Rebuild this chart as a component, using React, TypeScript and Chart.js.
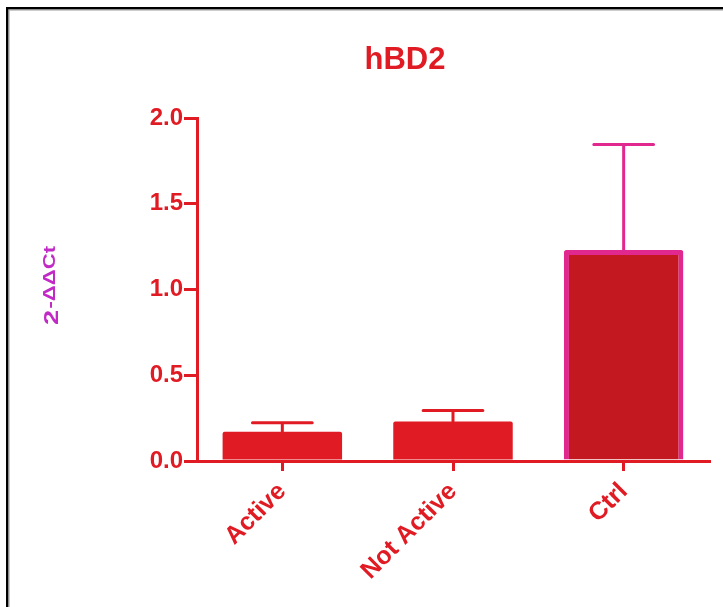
import { useEffect, useRef } from "react";
import { Chart, registerables } from "chart.js";

Chart.register(...registerables);

const categories = ["Active", "Not Active", "Ctrl"];
const means = [0.17, 0.23, 1.23];
const errors = [0.053, 0.065, 0.615];
const yTickValues = [0, 0.5, 1.0, 1.5, 2.0];
const titleText = "hBD2";
const yLabelBase = "2";
const yLabelSup = "-ΔΔCt";

const RED = "#e01b23";
const CTRL_FILL = "#c3181f";
const PINK = "#e0288e";
const PURPLE = "#c22ac6";
const FONT = "'Liberation Sans', Arial, sans-serif";

const barFill = [RED, RED, CTRL_FILL];
const barBorder = [RED, RED, PINK];
const barBorderWidth = [0, 0, 5];
const errColor = [RED, RED, PINK];

const framePlugin = {
  id: "frame",
  beforeDraw(chart: any) {
    const ctx = chart.ctx;
    ctx.save();
    ctx.fillStyle = "#ffffff";
    ctx.fillRect(0, 0, chart.width, chart.height);
    ctx.fillStyle = "#000000";
    ctx.fillRect(6, 7, 2.5, chart.height);
    ctx.fillRect(6, 7, chart.width, 2.5);
    ctx.fillStyle = "#9a9a9a";
    ctx.fillRect(8.5, 9.5, 1, chart.height);
    ctx.fillRect(8.5, 9.5, chart.width, 1);
    ctx.restore();
  },
};

const errorBarPlugin = {
  id: "errorBars",
  afterDatasetsDraw(chart: any) {
    const ctx = chart.ctx;
    const yScale = chart.scales.y;
    const meta = chart.getDatasetMeta(0);
    ctx.save();
    meta.data.forEach((bar: any, i: number) => {
      const p = bar.getProps(["x", "y", "width"], true);
      const top = yScale.getPixelForValue(means[i] + errors[i]);
      ctx.strokeStyle = errColor[i];
      ctx.lineWidth = 3;
      ctx.lineCap = "round";
      ctx.beginPath();
      ctx.moveTo(p.x, p.y);
      ctx.lineTo(p.x, top);
      ctx.moveTo(p.x - p.width / 4, top);
      ctx.lineTo(p.x + p.width / 4, top);
      ctx.stroke();
    });
    ctx.restore();
  },
};

const labelsPlugin = {
  id: "labels",
  afterDraw(chart: any) {
    const ctx = chart.ctx;
    ctx.save();
    ctx.fillStyle = RED;
    ctx.font = `bold 31px ${FONT}`;
    ctx.textAlign = "center";
    ctx.textBaseline = "alphabetic";
    ctx.fillText(titleText, 405, 69);

    ctx.fillStyle = PURPLE;
    ctx.translate(58, 285.5);
    ctx.rotate(-Math.PI / 2);
    ctx.textAlign = "left";
    const baseFont = `bold 21px ${FONT}`;
    const supFont = `bold 17px ${FONT}`;
    ctx.font = baseFont;
    const w1 = ctx.measureText(yLabelBase).width;
    ctx.font = supFont;
    const w2 = ctx.measureText(yLabelSup).width;
    const total = w1 + w2 + 1;
    const k = 79 / total;
    ctx.scale(k, 1);
    ctx.font = baseFont;
    ctx.fillText(yLabelBase, -total / 2, 0);
    ctx.font = supFont;
    ctx.fillText(yLabelSup, -total / 2 + w1 + 1, -3);
    ctx.restore();
  },
};

export default function App() {
  const ref = useRef<HTMLCanvasElement | null>(null);
  useEffect(() => {
    if (!ref.current) return;
    const chart = new Chart(ref.current, {
      type: "bar",
      data: {
        labels: categories,
        datasets: [
          {
            data: means,
            backgroundColor: barFill,
            borderColor: barBorder,
            borderWidth: barBorderWidth,
            borderRadius: 2,
            borderSkipped: "start",
            barPercentage: 0.7,
            categoryPercentage: 1,
          },
        ],
      },
      options: {
        responsive: false,
        animation: false,
        devicePixelRatio: 1,
        layout: { padding: { top: 118, right: 14, left: 0, bottom: 0 } },
        plugins: {
          legend: { display: false },
          title: { display: false },
          tooltip: { enabled: false },
        },
        scales: {
          x: {
            offset: true,
            grid: {
              offset: false,
              drawOnChartArea: false,
              drawTicks: true,
              tickLength: 10,
              tickWidth: 3,
              tickColor: RED,
              color: RED,
              lineWidth: 3,
            },
            border: { display: true, color: RED, width: 3 },
            ticks: {
              color: RED,
              font: { family: FONT, size: 25, weight: "bold" },
              minRotation: 45,
              maxRotation: 45,
              autoSkip: false,
              padding: 6,
            },
            afterFit(scale: any) {
              scale.height = 146;
            },
          },
          y: {
            min: 0,
            max: 2,
            afterBuildTicks(scale: any) {
              scale.ticks = yTickValues.map((v) => ({ value: v }));
            },
            grid: {
              drawOnChartArea: false,
              drawTicks: true,
              tickLength: 13,
              tickWidth: 3,
              tickColor: RED,
              color: RED,
              lineWidth: 3,
            },
            border: { display: true, color: RED, width: 3 },
            ticks: {
              color: RED,
              font: { family: FONT, size: 24, weight: "bold" },
              padding: 1,
              callback: (v: any) => Number(v).toFixed(1),
            },
            afterFit(scale: any) {
              scale.width = 197;
            },
          },
        },
      },
      plugins: [framePlugin, errorBarPlugin, labelsPlugin],
    } as any);
    return () => chart.destroy();
  }, []);
  return (
    <div style={{ position: "absolute", left: 0, top: 0, width: 723, height: 607 }}>
      <canvas ref={ref} width={723} height={607} style={{ display: "block" }} />
    </div>
  );
}
